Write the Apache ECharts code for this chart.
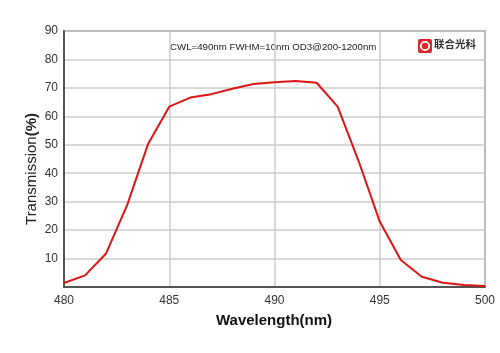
<!DOCTYPE html>
<html><head><meta charset="utf-8">
<script src="https://cdn.jsdelivr.net/npm/echarts@6/dist/echarts.min.js"></script>
<style>html,body{margin:0;padding:0;background:#fff}#c{width:500px;height:353px}</style>
</head><body><div id="c"></div>
<script>
var wavelengths = [480,481,482,483,484,485,486,487,488,489,490,491,492,493,494,495,496,497,498,499,500];
var transmission = [1.4,4.1,11.8,28.8,50.4,63.4,66.6,67.8,69.7,71.4,72.0,72.4,71.8,63.4,44.2,23.0,9.5,3.6,1.5,0.7,0.35];
var xTicks = [480,485,490,495,500];
var yTicks = [10,20,30,40,50,60,70,80,90];
var annotation = 'CWL=490nm FWHM=10nm OD3@200-1200nm';
var logoText = '联合光科';

var chart = echarts.init(document.getElementById('c'), null, {renderer:'canvas'});
var font = '"Liberation Sans", Arial, sans-serif';
chart.setOption({
  animation:false,
  backgroundColor:'#fff',
  grid:{left:64,right:15,top:31,bottom:66,show:true,borderColor:'#666',borderWidth:1.5,backgroundColor:'transparent'},
  xAxis:{type:'value',min:480,max:500,interval:5,
    axisLine:{show:true,lineStyle:{color:'#555',width:2}},
    axisTick:{show:false},
    splitLine:{show:true,lineStyle:{color:'#ccc',width:1.5}},
    axisLabel:{color:'#333',fontSize:12,fontFamily:font,margin:8,
      formatter:function(v){return xTicks.indexOf(v)>=0?String(v):'';}}},
  yAxis:{type:'value',min:0,max:90,interval:10,
    axisLine:{show:true,lineStyle:{color:'#555',width:2}},
    axisTick:{show:false},
    splitLine:{show:true,lineStyle:{color:'#ccc',width:1.5}},
    axisLabel:{color:'#333',fontSize:12,fontFamily:font,margin:6,
      formatter:function(v){return yTicks.indexOf(v)>=0?String(v):'';}}},
  series:[{type:'line',data:wavelengths.map(function(w,i){return [w,transmission[i]];}),
    showSymbol:false,symbol:'none',lineStyle:{color:'#dd1515',width:2},z:5}],
  graphic:[
    {type:'text',x:170,y:42,style:{text:annotation,fontSize:9.7,fontFamily:font,fill:'#222'}},
    {type:'text',x:32,y:169,rotation:Math.PI/2,
      style:{text:'{a|Transmission}{b|(%)}',align:'center',verticalAlign:'middle',
        rich:{a:{fontSize:15,fontFamily:font,fill:'#222'},b:{fontSize:15,fontWeight:'bold',fontFamily:font,fill:'#222'}}}},
    {type:'text',x:274,y:321,style:{text:'Wavelength(nm)',align:'center',verticalAlign:'middle',fontSize:15,fontWeight:'bold',fontFamily:font,fill:'#111'}},
    {type:'rect',shape:{x:418,y:39,width:14,height:14,r:2},style:{fill:'#d9262b'}},
    {type:'circle',shape:{cx:425,cy:46,r:4.2},style:{fill:'none',stroke:'#fff',lineWidth:1.8}},
    {type:'text',x:434,y:39,style:{text:logoText,fontSize:10.5,fontWeight:'bold',fontFamily:'"Noto Sans CJK SC", sans-serif',fill:'#333'}}
  ]
});
</script></body></html>
